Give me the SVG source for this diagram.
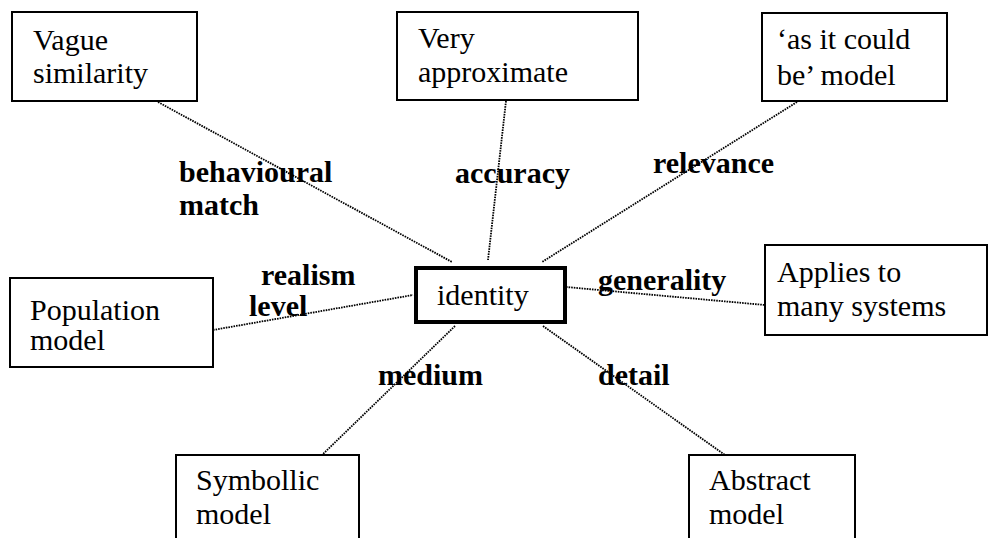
<svg xmlns="http://www.w3.org/2000/svg" width="991" height="538" viewBox="0 0 991 538">
<style>
.box{fill:#fff;stroke:#000;stroke-width:2}
.core{fill:#fff;stroke:#000;stroke-width:4}
.t{font-family:"Liberation Serif","Times New Roman",serif;font-size:30px;fill:#000}
.lb{font-family:"Liberation Serif","Times New Roman",serif;font-size:30px;font-weight:bold;fill:#000}
.c{stroke:#000;stroke-width:1.8;stroke-dasharray:1.6 1;fill:none}
</style>
<rect width="991" height="538" fill="#fff"/>
<g id="connectors">
<line class="c" x1="158" y1="102" x2="452" y2="262"/>
<line class="c" x1="506" y1="101" x2="488" y2="260"/>
<line class="c" x1="797" y1="102" x2="542" y2="262"/>
<line class="c" x1="213" y1="330" x2="413" y2="295"/>
<line class="c" x1="566" y1="287" x2="765" y2="305"/>
<line class="c" x1="455" y1="326" x2="322" y2="455"/>
<line class="c" x1="543" y1="326" x2="725" y2="455"/>
</g>
<g id="labels">
<text class="lb" x="179" y="182">behavioural</text>
<text class="lb" x="179" y="215">match</text>
<text class="lb" x="455" y="183">accuracy</text>
<text class="lb" x="653" y="173">relevance</text>
<text class="lb" x="261" y="285">realism</text>
<text class="lb" x="249" y="316">level</text>
<text class="lb" x="598" y="290">generality</text>
<text class="lb" x="378" y="385">medium</text>
<text class="lb" x="598" y="385">detail</text>
</g>
<g id="vague">
<rect class="box" x="12" y="12" width="185" height="89"/>
<text class="t" x="33" y="50">Vague</text>
<text class="t" x="33" y="83">similarity</text>
</g>
<g id="approximate">
<rect class="box" x="397" y="12" width="241" height="88"/>
<text class="t" x="418" y="48">Very</text>
<text class="t" x="418" y="82">approximate</text>
</g>
<g id="could-be">
<rect class="box" x="762" y="13" width="185" height="88"/>
<text class="t" x="777" y="49">‘as it could</text>
<text class="t" x="777" y="85">be’ model</text>
</g>
<g id="identity">
<rect class="core" x="416" y="268" width="149" height="54"/>
<text class="t" x="437" y="305">identity</text>
</g>
<g id="population">
<rect class="box" x="10" y="278" width="203" height="89"/>
<text class="t" x="30" y="320">Population</text>
<text class="t" x="30" y="350">model</text>
</g>
<g id="applies">
<rect class="box" x="765" y="245" width="222" height="90"/>
<text class="t" x="777" y="282">Applies to</text>
<text class="t" x="777" y="316">many systems</text>
</g>
<g id="symbolic">
<rect class="box" x="176" y="455" width="183" height="100"/>
<text class="t" x="196" y="490">Symbollic</text>
<text class="t" x="196" y="524">model</text>
</g>
<g id="abstract">
<rect class="box" x="689" y="455" width="166" height="100"/>
<text class="t" x="709" y="490">Abstract</text>
<text class="t" x="709" y="524">model</text>
</g>
</svg>
